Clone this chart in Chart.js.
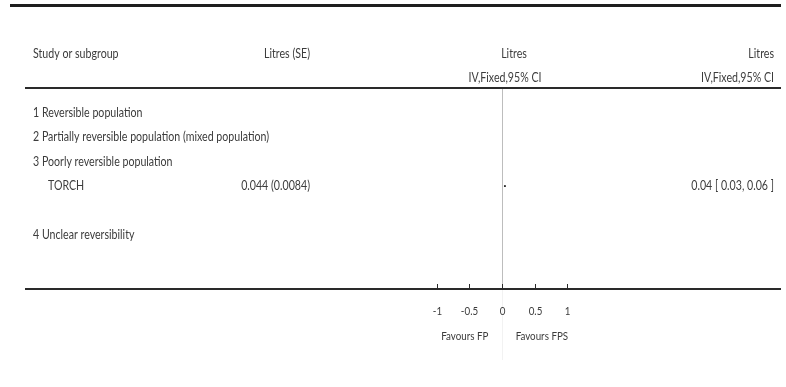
<!DOCTYPE html>
<html>
<head>
    <title>Forest plot - Litres</title>
    <style>
        body { margin: 0; background: #fff; }
        canvas { display: block; }
    </style>
</head>
<body>
    <canvas id="forest" width="786" height="387"></canvas>

    <script src="https://cdn.jsdelivr.net/npm/chart.js"></script>
    <script>
        // данные
        const subgroupNames = ['1 Reversible population', '2 Partially reversible population (mixed population)', '3 Poorly reversible population', '4 Unclear reversibility'];
        const subgroupRows = [0, 1, 2, 5];
        const studyNames = ['TORCH'];
        const studyRows = [3];
        const studyValueText = ['0.044 (0.0084)'];
        const studyEstimate = [0.044];
        const studyLow = [0.03];
        const studyHigh = [0.06];
        const studyCiText = ['0.04 [ 0.03, 0.06 ]'];
        const xTicks = [-1, -0.5, 0, 0.5, 1];
        const xTickLabels = ['-1', '-0.5', '0', '0.5', '1'];
        const favoursLeft = 'Favours FP';
        const favoursRight = 'Favours FPS';

        const FONT = 'Lato, sans-serif';
        const TEXT = '#3c3c3c';
        const SQUEEZE = 0.85; // шрифт в оригинале узкий

        const ciPoints = [];
        studyRows.forEach((r, i) => {
            ciPoints.push({ x: studyLow[i], y: r });
            ciPoints.push({ x: studyHigh[i], y: r });
            ciPoints.push({ x: NaN, y: NaN });
        });
        const estPoints = studyRows.map((r, i) => ({ x: studyEstimate[i], y: r }));

        function text(ctx, str, x, y, align, size) {
            ctx.save();
            ctx.font = size + 'px ' + FONT;
            ctx.fillStyle = TEXT;
            ctx.textAlign = align;
            ctx.textBaseline = 'middle';
            ctx.translate(x, y);
            ctx.scale(SQUEEZE, 1);
            ctx.fillText(str, 0, 0);
            ctx.restore();
        }

        function hline(ctx, x1, x2, y, w, color) {
            ctx.strokeStyle = color;
            ctx.lineWidth = w;
            ctx.beginPath();
            ctx.moveTo(x1, y);
            ctx.lineTo(x2, y);
            ctx.stroke();
        }

        const tablePlugin = {
            id: 'table',
            beforeDatasetsDraw(chart) {
                const ctx = chart.ctx;
                const xs = chart.scales.x;
                const area = chart.chartArea;
                const x0 = Math.round(xs.getPixelForValue(0)) + 0.5;
                ctx.save();
                // линия нуля
                ctx.strokeStyle = '#bdbdbd';
                ctx.lineWidth = 1;
                ctx.beginPath();
                ctx.moveTo(x0, area.top);
                ctx.lineTo(x0, area.bottom);
                ctx.stroke();
                ctx.strokeStyle = '#f2f2f2';
                ctx.beginPath();
                ctx.moveTo(x0, area.bottom);
                ctx.lineTo(x0, area.bottom + 71);
                ctx.stroke();
                ctx.restore();
            },
            afterDraw(chart) {
                const ctx = chart.ctx;
                const xs = chart.scales.x, ys = chart.scales.y;
                const area = chart.chartArea;
                ctx.save();
                // горизонтальные линии
                hline(ctx, 10, 781, 5.5, 3, '#1e1e1e');
                hline(ctx, 25, 781, area.top, 2, '#2a2a2a');
                hline(ctx, 25, 781, area.bottom, 2, '#2a2a2a');
                // засечки вверх и подписи оси
                ctx.strokeStyle = '#2a2a2a';
                ctx.lineWidth = 1;
                xTicks.forEach((v, i) => {
                    const px = Math.round(xs.getPixelForValue(v)) + 0.5;
                    ctx.beginPath();
                    ctx.moveTo(px, area.bottom);
                    ctx.lineTo(px, area.bottom - 5);
                    ctx.stroke();
                    text(ctx, xTickLabels[i], px, area.bottom + 22, 'center', 11.5);
                });
                // заголовки
                text(ctx, 'Study or subgroup', 33, 54, 'left', 12.5);
                text(ctx, 'Litres (SE)', 310, 54, 'right', 12.5);
                text(ctx, 'Litres', 514, 54, 'center', 12.5);
                text(ctx, 'IV,Fixed,95% CI', 505, 78, 'center', 12.5);
                text(ctx, 'Litres', 774, 54, 'right', 12.5);
                text(ctx, 'IV,Fixed,95% CI', 774, 78, 'right', 12.5);
                // строки
                subgroupNames.forEach((s, i) => {
                    text(ctx, s, 33, ys.getPixelForValue(subgroupRows[i]), 'left', 12.5);
                });
                studyNames.forEach((s, i) => {
                    const py = ys.getPixelForValue(studyRows[i]);
                    text(ctx, s, 48, py, 'left', 12.5);
                    text(ctx, studyValueText[i], 310, py, 'right', 12.5);
                    text(ctx, studyCiText[i], 774, py, 'right', 12.5);
                });
                // подписи Favours
                text(ctx, favoursLeft, xs.getPixelForValue(-0.57), area.bottom + 47, 'center', 11.5);
                text(ctx, favoursRight, xs.getPixelForValue(0.61), area.bottom + 47, 'center', 11.5);
                ctx.restore();
            }
        };

        const chart = new Chart(document.getElementById('forest'), {
            type: 'scatter',
            data: {
                datasets: [
                    {
                        data: ciPoints,
                        showLine: true,
                        spanGaps: false,
                        borderColor: '#333',
                        borderWidth: 1,
                        pointRadius: 0
                    },
                    {
                        data: estPoints,
                        pointStyle: 'rect',
                        pointRadius: 1.2,
                        backgroundColor: '#222',
                        borderColor: '#222',
                        borderWidth: 0
                    }
                ]
            },
            options: {
                responsive: false,
                animation: false,
                devicePixelRatio: 1,
                layout: { padding: { left: 404, right: 186, top: 88, bottom: 98 } },
                plugins: { legend: { display: false }, tooltip: { enabled: false } },
                scales: {
                    x: {
                        display: false,
                        type: 'linear',
                        min: -1.5,
                        max: 1.5
                    },
                    y: {
                        display: false,
                        reverse: true,
                        min: -1,
                        max: 7.2
                    }
                }
            },
            plugins: [tablePlugin]
        });
    </script>
</body>
</html>
